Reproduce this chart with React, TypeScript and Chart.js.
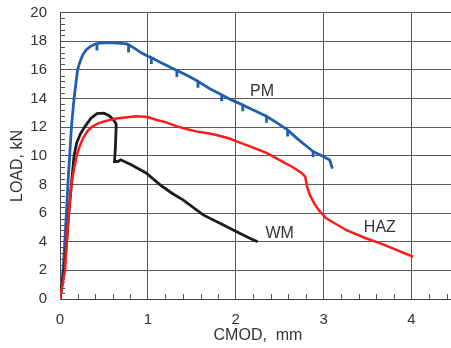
import React, { useEffect, useRef } from "react";
import { Chart, registerables } from "chart.js";

Chart.register(...registerables);

const pmX = [0, 0.035, 0.055, 0.09, 0.13, 0.16, 0.2, 0.23, 0.26, 0.3, 0.35, 0.4, 0.42, 0.42, 0.42, 0.5, 0.6, 0.7, 0.77, 0.78, 0.78, 0.78, 0.85, 0.92, 1.0, 1.04, 1.04, 1.04, 1.15, 1.25, 1.33, 1.33, 1.33, 1.45, 1.57, 1.57, 1.57, 1.7, 1.84, 1.84, 1.84, 1.95, 2.08, 2.08, 2.08, 2.2, 2.35, 2.35, 2.35, 2.47, 2.59, 2.59, 2.59, 2.7, 2.8, 2.88, 2.88, 2.88, 2.98, 3.07, 3.1];
const pmY = [0, 2, 4, 8, 12, 14, 16, 16.6, 17.05, 17.4, 17.65, 17.8, 17.82, 17.35, 17.82, 17.9, 17.88, 17.85, 17.8, 17.75, 17.2, 17.75, 17.5, 17.2, 16.95, 16.85, 16.4, 16.85, 16.5, 16.2, 15.95, 15.5, 15.95, 15.6, 15.2, 14.75, 15.2, 14.7, 14.25, 13.8, 14.25, 13.9, 13.55, 13.1, 13.55, 13.2, 12.75, 12.3, 12.75, 12.3, 11.8, 11.35, 11.8, 11.2, 10.7, 10.3, 9.9, 10.3, 10.0, 9.7, 9.1];

const hazX = [0, 0.057, 0.076, 0.1, 0.13, 0.16, 0.19, 0.22, 0.26, 0.31, 0.36, 0.43, 0.5, 0.64, 0.87, 1.0, 1.1, 1.2, 1.33, 1.45, 1.55, 1.7, 1.78, 1.93, 2.01, 2.16, 2.35, 2.5, 2.65, 2.75, 2.79, 2.81, 2.84, 2.9, 2.96, 3.03, 3.15, 3.26, 3.48, 3.64, 3.8, 4.02];
const hazY = [0, 2, 4, 6, 8, 9.1, 10, 10.6, 11.2, 11.7, 12.0, 12.25, 12.4, 12.6, 12.75, 12.7, 12.5, 12.35, 12.05, 11.85, 11.7, 11.55, 11.45, 11.2, 11.0, 10.65, 10.2, 9.7, 9.2, 8.8, 8.55, 7.9, 7.3, 6.6, 6.1, 5.63, 5.2, 4.8, 4.24, 3.9, 3.5, 2.95];

const wmX = [0, 0.05, 0.08, 0.1, 0.13, 0.16, 0.19, 0.23, 0.28, 0.35, 0.42, 0.5, 0.56, 0.61, 0.64, 0.63, 0.62, 0.66, 0.69, 0.8, 0.98, 1.14, 1.27, 1.4, 1.63, 1.86, 2.01, 2.16, 2.25];
const wmY = [0, 2.2, 4.3, 6, 8, 10, 10.9, 11.5, 12, 12.6, 12.94, 12.97, 12.8, 12.5, 12.2, 10.5, 9.6, 9.6, 9.72, 9.4, 8.8, 7.97, 7.4, 6.92, 5.87, 5.17, 4.7, 4.24, 3.99];

const seriesLabels = ["PM", "HAZ", "WM"];
const labelX = [2.3, 3.64, 2.5];
const labelY = [14.45, 4.95, 4.54];

const xTitle = "CMOD,  mm";
const yTitle = "LOAD, kN";

const toPts = (xs: number[], ys: number[]) => xs.map((x, i) => ({ x, y: ys[i] }));

const extrasPlugin = {
  id: "extras",
  afterDraw(chart: any) {
    const ctx = chart.ctx;
    const xs = chart.scales.x;
    const ys = chart.scales.y;
    const area = chart.chartArea;
    ctx.save();
    ctx.strokeStyle = "#555";
    ctx.lineWidth = 1;
    ctx.beginPath();
    for (let i = 1; i * 0.2 <= 4.45; i++) {
      if (i % 5 === 0) continue;
      const px = Math.round(xs.getPixelForValue(i * 0.2)) + 0.5;
      ctx.moveTo(px, area.bottom);
      ctx.lineTo(px, area.bottom - 5);
    }
    for (let i = 1; i * 0.4 < 20; i++) {
      if (i % 5 === 0) continue;
      const py = Math.round(ys.getPixelForValue(i * 0.4)) + 0.5;
      ctx.moveTo(area.left, py);
      ctx.lineTo(area.left + 5, py);
    }
    ctx.stroke();

    ctx.fillStyle = "#333";
    ctx.font = "16px 'Liberation Sans', Arial, sans-serif";
    ctx.textAlign = "center";
    ctx.textBaseline = "middle";
    seriesLabels.forEach((t, i) => {
      ctx.fillText(t, xs.getPixelForValue(labelX[i]), ys.getPixelForValue(labelY[i]));
    });
    ctx.fillText(xTitle, 258, 336);
    ctx.translate(18, 166);
    ctx.rotate(-Math.PI / 2);
    ctx.fillText(yTitle, 0, 0);
    ctx.restore();
  },
};

export default function App() {
  const ref = useRef<HTMLCanvasElement>(null);
  useEffect(() => {
    if (!ref.current) return;
    Chart.defaults.font.family = "'Liberation Sans', Arial, sans-serif";
    const chart = new Chart(ref.current, {
      type: "scatter",
      data: {
        datasets: [
          { data: toPts(hazX, hazY), borderColor: "#ff1a1a", borderWidth: 2.5, showLine: true, pointRadius: 0, tension: 0 },
          { data: toPts(wmX, wmY), borderColor: "#1c1c1c", borderWidth: 2.8, showLine: true, pointRadius: 0, tension: 0 },
          { data: toPts(pmX, pmY), borderColor: "#1f5fae", borderWidth: 2.8, showLine: true, pointRadius: 0, tension: 0 },
        ],
      },
      options: {
        animation: false,
        responsive: true,
        maintainAspectRatio: false,
        layout: { padding: { top: 12.5, right: 0, left: 0, bottom: 0 } },
        plugins: { legend: { display: false }, tooltip: { enabled: false } },
        scales: {
          x: {
            type: "linear",
            min: 0,
            max: 4.45,
            afterFit: (s: any) => { s.height = 49; s.paddingLeft = 0; s.paddingRight = 0; },
            ticks: { stepSize: 1, includeBounds: false, color: "#333", font: { size: 15 }, padding: 12 },
            grid: { color: "#5a5a5a", lineWidth: 1, drawTicks: false },
            border: { color: "#444", width: 1 },
          },
          y: {
            type: "linear",
            min: 0,
            max: 20,
            afterFit: (s: any) => { s.width = 60; s.paddingTop = 0; s.paddingBottom = 0; },
            ticks: { stepSize: 2, color: "#333", font: { size: 15 }, padding: 13 },
            grid: { color: "#5a5a5a", lineWidth: 1, drawTicks: false },
            border: { color: "#444", width: 1 },
          },
        },
      },
      plugins: [extrasPlugin],
    });
    return () => chart.destroy();
  }, []);
  return (
    <div style={{ position: "fixed", left: 0, top: 0, width: 451, height: 348, background: "#fff" }}>
      <canvas ref={ref} />
    </div>
  );
}
